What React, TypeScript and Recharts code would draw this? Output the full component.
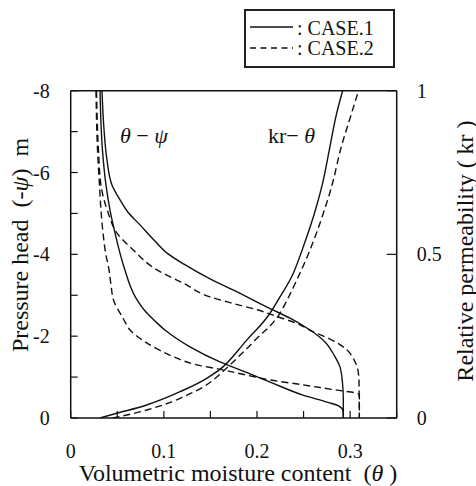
import { LineChart, Line, XAxis, YAxis } from "recharts";

// theta-psi retention curves (drying = upper branch, wetting = lower branch)
const dryingCase1 = [
  { theta: 0.0336, psi: -8 },
  { theta: 0.0358, psi: -7.04 },
  { theta: 0.039, psi: -6.3 },
  { theta: 0.0444, psi: -5.69 },
  { theta: 0.053, psi: -5.33 },
  { theta: 0.0615, psi: -5.03 },
  { theta: 0.0744, psi: -4.72 },
  { theta: 0.0894, psi: -4.35 },
  { theta: 0.1034, psi: -4.03 },
  { theta: 0.1216, psi: -3.76 },
  { theta: 0.1496, psi: -3.4 },
  { theta: 0.1743, psi: -3.13 },
  { theta: 0.2107, psi: -2.71 },
  { theta: 0.2355, psi: -2.44 },
  { theta: 0.2569, psi: -2.15 },
  { theta: 0.273, psi: -1.86 },
  { theta: 0.2827, psi: -1.54 },
  { theta: 0.2891, psi: -1.25 },
  { theta: 0.2918, psi: -0.86 },
  { theta: 0.2927, psi: -0.44 },
  { theta: 0.2927, psi: 0 },
];

const dryingCase2 = [
  { theta: 0.0277, psi: -8 },
  { theta: 0.0298, psi: -6.55 },
  { theta: 0.0325, psi: -5.69 },
  { theta: 0.0358, psi: -5.33 },
  { theta: 0.04, psi: -5.03 },
  { theta: 0.0497, psi: -4.52 },
  { theta: 0.0669, psi: -4.11 },
  { theta: 0.0927, psi: -3.62 },
  { theta: 0.1206, psi: -3.3 },
  { theta: 0.1496, psi: -2.96 },
  { theta: 0.1743, psi: -2.8 },
  { theta: 0.2011, psi: -2.64 },
  { theta: 0.2215, psi: -2.48 },
  { theta: 0.2419, psi: -2.32 },
  { theta: 0.2601, psi: -2.11 },
  { theta: 0.2784, psi: -1.93 },
  { theta: 0.2967, psi: -1.66 },
  { theta: 0.3031, psi: -1.47 },
  { theta: 0.3074, psi: -1.25 },
  { theta: 0.3095, psi: -0.93 },
  { theta: 0.3099, psi: 0 },
];

const wettingCase1 = [
  { theta: 0.0315, psi: -8 },
  { theta: 0.0341, psi: -6.55 },
  { theta: 0.0379, psi: -5.69 },
  { theta: 0.0422, psi: -5.08 },
  { theta: 0.0476, psi: -4.52 },
  { theta: 0.0572, psi: -3.69 },
  { theta: 0.0701, psi: -2.93 },
  { theta: 0.0808, psi: -2.59 },
  { theta: 0.0905, psi: -2.37 },
  { theta: 0.1012, psi: -2.15 },
  { theta: 0.128, psi: -1.74 },
  { theta: 0.1603, psi: -1.37 },
  { theta: 0.1925, psi: -1.08 },
  { theta: 0.2161, psi: -0.86 },
  { theta: 0.2494, psi: -0.56 },
  { theta: 0.2763, psi: -0.38 },
  { theta: 0.2881, psi: -0.29 },
  { theta: 0.2924, psi: -0.17 },
  { theta: 0.2927, psi: 0 },
];

const wettingCase2 = [
  { theta: 0.0272, psi: -8 },
  { theta: 0.0288, psi: -6.55 },
  { theta: 0.0309, psi: -5.69 },
  { theta: 0.0325, psi: -5.08 },
  { theta: 0.0347, psi: -4.52 },
  { theta: 0.0379, psi: -3.98 },
  { theta: 0.0406, psi: -3.69 },
  { theta: 0.0433, psi: -3.25 },
  { theta: 0.046, psi: -2.88 },
  { theta: 0.0497, psi: -2.69 },
  { theta: 0.0529, psi: -2.57 },
  { theta: 0.0583, psi: -2.35 },
  { theta: 0.0637, psi: -2.15 },
  { theta: 0.0723, psi: -1.98 },
  { theta: 0.082, psi: -1.83 },
  { theta: 0.0959, psi: -1.65 },
  { theta: 0.1098, psi: -1.5 },
  { theta: 0.1356, psi: -1.3 },
  { theta: 0.1603, psi: -1.19 },
  { theta: 0.1925, psi: -1.03 },
  { theta: 0.214, psi: -0.93 },
  { theta: 0.2494, psi: -0.81 },
  { theta: 0.2859, psi: -0.68 },
  { theta: 0.3063, psi: -0.61 },
  { theta: 0.3099, psi: -0.56 },
  { theta: 0.3099, psi: 0 },
];

// relative permeability curves
const krCase1 = [
  { theta: 0.0315, kr: 0 },
  { theta: 0.0494, kr: 0.0144 },
  { theta: 0.0816, kr: 0.0397 },
  { theta: 0.1174, kr: 0.0804 },
  { theta: 0.146, kr: 0.1213 },
  { theta: 0.1638, kr: 0.157 },
  { theta: 0.189, kr: 0.238 },
  { theta: 0.214, kr: 0.32 },
  { theta: 0.2247, kr: 0.37 },
  { theta: 0.239, kr: 0.442 },
  { theta: 0.2497, kr: 0.523 },
  { theta: 0.2632, kr: 0.64 },
  { theta: 0.2712, kr: 0.727 },
  { theta: 0.2773, kr: 0.8136 },
  { theta: 0.2843, kr: 0.9157 },
  { theta: 0.292, kr: 1 },
];

const krCase2 = [
  { theta: 0.045, kr: 0 },
  { theta: 0.0816, kr: 0.0244 },
  { theta: 0.1174, kr: 0.0602 },
  { theta: 0.1531, kr: 0.1161 },
  { theta: 0.1675, kr: 0.153 },
  { theta: 0.198, kr: 0.238 },
  { theta: 0.2246, kr: 0.32 },
  { theta: 0.2427, kr: 0.4216 },
  { theta: 0.2569, kr: 0.5133 },
  { theta: 0.2712, kr: 0.6254 },
  { theta: 0.282, kr: 0.727 },
  { theta: 0.2891, kr: 0.8136 },
  { theta: 0.2999, kr: 0.9157 },
  { theta: 0.309, kr: 1 },
];

const thetaTicks = [0, 0.05, 0.1, 0.15, 0.2, 0.25, 0.3, 0.35];
const psiTicks = [-8, -7, -6, -5, -4, -3, -2, -1, 0];
const krTicks = [0, 0.5, 1];

const FONT = "Liberation Serif";
const INK = "#111";

const serif = { fontFamily: FONT };
const tickStyle = { fill: INK, fontSize: 20, fontFamily: FONT };

const App = () => {
  return (
    <div style={{ position: "absolute", left: 0, top: 0, width: 476, height: 486, background: "#fff", fontFamily: FONT }}>
      <LineChart
        width={476}
        height={486}
        margin={{ top: 89.7, right: 0, bottom: 28, left: 0 }}
        style={{ position: "absolute", left: 0, top: 0 }}
      >
        <XAxis
          xAxisId="x"
          dataKey="theta"
          type="number"
          domain={[0, 0.35]}
          allowDataOverflow
          ticks={thetaTicks}
          interval={0}
          height={40}
          tickSize={-7}
          tickMargin={33}
          tickFormatter={(v: number) => (Math.round(v * 100) % 10 === 0 ? String(v) : "")}
          tick={tickStyle}
          axisLine={{ stroke: INK, strokeWidth: 1.5 }}
          tickLine={{ stroke: INK, strokeWidth: 1.2 }}
        />
        <XAxis
          xAxisId="top"
          orientation="top"
          type="number"
          domain={[0, 0.35]}
          allowDataOverflow
          ticks={thetaTicks}
          interval={0}
          height={1}
          tickSize={-7}
          tick={false}
          axisLine={{ stroke: INK, strokeWidth: 1.5 }}
          tickLine={{ stroke: INK, strokeWidth: 1.2 }}
        />
        <YAxis
          yAxisId="psi"
          type="number"
          domain={[-8, 0]}
          reversed
          allowDataOverflow
          ticks={psiTicks}
          interval={0}
          width={70.7}
          tickSize={-7}
          tickMargin={28}
          tickFormatter={(v: number) => (v % 2 === 0 ? String(v) : "")}
          tick={tickStyle}
          axisLine={{ stroke: INK, strokeWidth: 1.5 }}
          tickLine={{ stroke: INK, strokeWidth: 1.2 }}
        />
        <YAxis
          yAxisId="kr"
          orientation="right"
          type="number"
          domain={[0, 1]}
          allowDataOverflow
          ticks={krTicks}
          interval={0}
          width={79.3}
          tickSize={-10}
          tickMargin={30}
          tick={{ ...tickStyle, textAnchor: "start" }}
          axisLine={{ stroke: INK, strokeWidth: 1.5 }}
          tickLine={{ stroke: INK, strokeWidth: 1.2 }}
        />

        <Line xAxisId="x" yAxisId="psi" data={dryingCase1} dataKey="psi" type="monotoneY" stroke={INK} strokeWidth={1.4} dot={false} isAnimationActive={false} />
        <Line xAxisId="x" yAxisId="psi" data={wettingCase1} dataKey="psi" type="monotoneY" stroke={INK} strokeWidth={1.4} dot={false} isAnimationActive={false} />
        <Line xAxisId="x" yAxisId="psi" data={dryingCase2} dataKey="psi" type="monotoneY" stroke={INK} strokeWidth={1.4} strokeDasharray="7 4" dot={false} isAnimationActive={false} />
        <Line xAxisId="x" yAxisId="psi" data={wettingCase2} dataKey="psi" type="monotoneY" stroke={INK} strokeWidth={1.4} strokeDasharray="7 4" dot={false} isAnimationActive={false} />
        <Line xAxisId="x" yAxisId="kr" data={krCase1} dataKey="kr" type="monotoneX" stroke={INK} strokeWidth={1.4} dot={false} isAnimationActive={false} />
        <Line xAxisId="x" yAxisId="kr" data={krCase2} dataKey="kr" type="monotoneX" stroke={INK} strokeWidth={1.4} strokeDasharray="7 4" dot={false} isAnimationActive={false} />
      </LineChart>

      {/* titles, curve labels and legend box */}
      <svg width={476} height={486} style={{ position: "absolute", left: 0, top: 0, pointerEvents: "none" }}>
        <text x={238} y={481} fontSize={24} style={serif} fill={INK} textAnchor="middle">
          Volumetric moisture content{"\u00A0 "}(<tspan fontStyle="italic">θ</tspan>{"\u00A0"})
        </text>
        <text x={28} y={245} fontSize={24} style={serif} fill={INK} textAnchor="middle" transform="rotate(-90 28 245)">
          Pressure head{"\u00A0 "}(-<tspan fontStyle="italic">ψ</tspan>){"\u00A0 "}m
        </text>
        <text x={473} y={251} fontSize={24} style={serif} fill={INK} textAnchor="middle" transform="rotate(-90 473 251)">
          Relative permeability ( kr )
        </text>

        <text x={120} y={143} fontSize={22} style={serif} fill={INK}>
          <tspan fontStyle="italic">θ</tspan>{" − "}<tspan fontStyle="italic">ψ</tspan>
        </text>
        <text x={268} y={143} fontSize={22} style={serif} fill={INK}>
          kr− <tspan fontStyle="italic">θ</tspan>
        </text>

        <rect x={245} y={10} width={149} height={57} fill="none" stroke="#222" strokeWidth={2} />
        <line x1={250} y1={27} x2={293} y2={27} stroke={INK} strokeWidth={1.4} />
        <line x1={250} y1={48} x2={293} y2={48} stroke={INK} strokeWidth={1.4} strokeDasharray="6 4.5" />
        <text x={297} y={35} fontSize={20} style={serif} fill={INK}>: CASE.1</text>
        <text x={297} y={55} fontSize={20} style={serif} fill={INK}>: CASE.2</text>
      </svg>
    </div>
  );
};

export default App;
